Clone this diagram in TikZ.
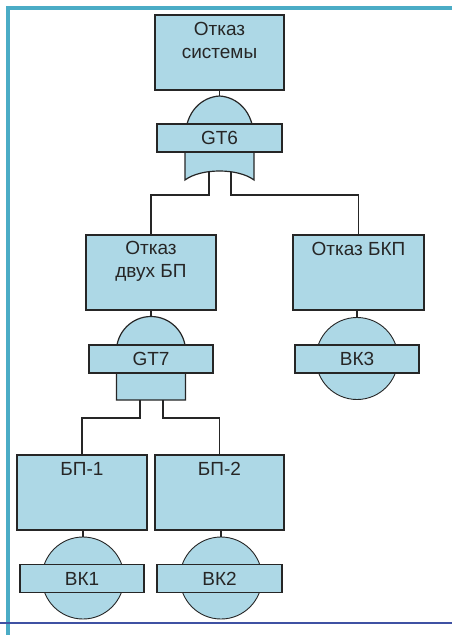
\documentclass[tikz,border=0pt]{standalone}
\usepackage{fontspec}
\setmainfont{Liberation Sans}
\definecolor{boxfill}{RGB}{173,216,230}
\definecolor{edgegray}{RGB}{38,38,38}
\definecolor{frameteal}{RGB}{75,172,198}
\definecolor{framenavy}{RGB}{63,81,163}
\tikzset{
  evbox/.style={draw=edgegray,fill=boxfill,line width=1.2pt,minimum height=75pt,inner sep=0pt},
  evtext/.style={anchor=north,align=center,inner sep=0pt,text=edgegray,font=\fontsize{19}{22.5}\selectfont},
  tagbox/.style={draw=edgegray,fill=boxfill,line width=1.2pt,minimum width=124pt,minimum height=28pt,inner sep=0pt,text=edgegray,font=\fontsize{19}{20}\selectfont},
  basic/.style={circle,draw=edgegray,fill=boxfill,line width=0.9pt,minimum size=82pt,inner sep=0pt},
  gatebody/.style={draw=edgegray,fill=boxfill,line width=1.2pt},
  wire/.style={draw=edgegray,line width=1.2pt}
}
\begin{document}
\begin{tikzpicture}[x=1pt,y=-1pt]
    \useasboundingbox (0,0) rectangle (452,635);
    \draw[frameteal,line width=4pt] (6,8) -- (452,8);
    \draw[frameteal,line width=4pt] (8,6) -- (8,635);
    \draw[framenavy,line width=1.3pt] (0,623) -- (452,623);

    \node[evbox,minimum width=129pt] (sys) at (219.5,52.5) {};
    \node[evtext] (systxt) at ([yshift=-8pt]sys.north) {Отказ\\системы};
    \node[evbox,minimum width=130pt] (twobp) at (151,272.5) {};
    \node[evtext] (twobptxt) at ([yshift=-7pt]twobp.north) {Отказ\\двух БП};
    \node[evbox,minimum width=131pt] (bkp) at (358.5,272.5) {};
    \node[evtext] (bkptxt) at ([yshift=-8pt]bkp.north) {Отказ БКП};
    \node[evbox,minimum width=130pt] (bp1) at (82,492.5) {};
    \node[evtext] (bp1txt) at ([yshift=-8pt]bp1.north) {БП-1};
    \node[evbox,minimum width=129pt] (bp2) at (219.5,492.5) {};
    \node[evtext] (bp2txt) at ([yshift=-8pt]bp2.north) {БП-2};

    \path[gatebody] (185,180) -- (185,140) .. controls (185,110) and (203,97) .. (219.5,96)
        .. controls (236,97) and (254,110) .. (254,140) -- (254,180)
        .. controls (238,168) and (201,168) .. (185,180) -- cycle;
    \coordinate (gt6top) at (219.5,96);
    \coordinate (gt6l) at (209,171.5);
    \coordinate (gt6r) at (231,171.5);
    \node[tagbox,minimum width=125pt] (gt6) at (219.5,138) {GT6};

    \path[gatebody] (116.5,400) -- (116.5,351) .. controls (116.5,332) and (132,316.5) .. (151,316.5)
        .. controls (170,316.5) and (185.5,332) .. (185.5,351) -- (185.5,400) -- cycle;
    \coordinate (gt7top) at (151,316.5);
    \coordinate (gt7l) at (140,400);
    \coordinate (gt7r) at (163,400);
    \node[tagbox] (gt7) at (151,359) {GT7};

    \node[basic] (bk3c) at (357,358.5) {};
    \node[tagbox] (bk3) at (357,359) {ВК3};
    \node[basic] (bk1c) at (83,578) {};
    \node[tagbox] (bk1) at (82,578.5) {ВК1};
    \node[basic] (bk2c) at (221,578) {};
    \node[tagbox,minimum width=125pt] (bk2) at (219.5,578.5) {ВК2};

    \draw[wire] (sys.south) -- (gt6top);
    \draw[wire] (gt6l) -- ++(0,23.5) -| (twobp.north);
    \draw[wire] (gt6r) -- ++(0,23.5) -| (bkp.north);
    \draw[wire] (twobp.south) -- (gt7top);
    \draw[wire] (gt7l) -- ++(0,18) -| (bp1.north);
    \draw[wire] (gt7r) -- ++(0,18) -| (bp2.north);
    \draw[wire] (bkp.south -| bk3c.north) -- (bk3c.north);
    \draw[wire] (bp1.south -| bk1c.north) -- (bk1c.north);
    \draw[wire] (bp2.south -| bk2c.north) -- (bk2c.north);
\end{tikzpicture}
\end{document}
